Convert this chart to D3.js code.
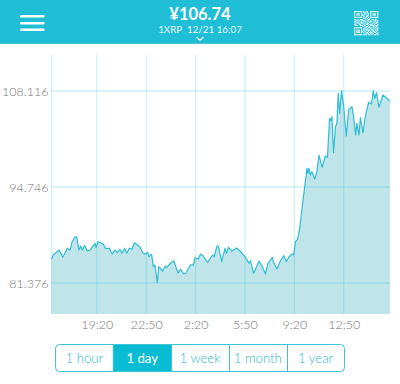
<!DOCTYPE html>
<html>
<head>
<meta charset="utf-8">
<script src="https://cdn.jsdelivr.net/npm/d3@7"></script>
<style>
html,body{margin:0;padding:0;background:#fff;}
svg{display:block;}
text{font-family:Lato,"Open Sans",sans-serif;}
.axis path,.axis line{display:none;}
.axis text{fill:#767676;font-size:12.5px;font-weight:300;font-family:Lato,"Open Sans",sans-serif;}
</style>
</head>
<body>
<svg id="chart" width="400" height="384"></svg>
<script>
// minutes since 16:07 the day before
const minutes = [0,8,33,48,67,79,88,99,107,117,124,131,141,152,164,185,189,198,220,229,246,258,270,280,291,300,311,320,331,342,353,376,388,399,409,414,426,433,440,450,456,473,484,489,503,520,539,549,563,572,591,603,611,624,634,645,664,685,692,704,710,724,738,744,753,767,787,801,826,840,846,860,883,900,910,921,940,944,959,974,988,999,1010,1025,1030,1038,1047,1056,1070,1087,1091,1095,1101,1108,1120,1129,1138,1151,1165,1174,1183,1188,1193,1200,1208,1214,1220,1226,1234,1243,1254,1264,1278,1285,1294,1299,1308,1314,1325,1336,1349,1361,1369,1375,1383,1393,1410,1435,1440]
const prices = [84.72,85.32,85.97,84.95,86.21,85.97,87.13,87.74,87.82,85.97,86.53,85.97,86.63,85.83,85.97,86.91,86.35,87.13,86.81,86.21,86.21,85.41,85.97,85.60,86.07,85.51,86.21,85.51,86.21,86.07,86.99,86.43,85.60,85.37,85.65,85.04,85.37,83.65,83.88,81.42,83.65,83.05,83.74,83.51,84.02,84.48,82.73,83.28,82.63,82.73,83.92,83.88,84.90,84.72,85.41,85.14,84.26,85.28,85.04,86.53,86.53,84.34,86.21,85.51,86.35,85.83,86.25,85.87,84.90,84.12,84.48,82.73,84.44,83.42,82.63,84.12,84.95,84.34,83.33,84.48,85.18,84.34,85.04,85.41,85.28,87.13,87.46,89.00,92.94,97.35,96.65,97.39,96.42,96.88,95.86,96.88,99.20,97.49,99.06,98.88,104.31,103.98,104.54,99.52,103.14,103.62,107.80,105.01,108.16,105.93,101.85,105.47,105.93,104.54,101.99,103.62,101.99,104.40,102.31,104.77,106.54,106.31,108.16,107.10,107.88,105.85,107.56,106.86,106.74]

const yTicks = [81.376,94.746,108.116]
const xTicks = [193,403,613,823,1033,1243]
const xLabels = ['19:20','22:50','2:20','5:50','9:20','12:50']
const ranges = ['1 hour','1 day','1 week','1 month','1 year']
const activeRange = '1 day'
const qrRows = [
	'1111111010110011111110',
	'1000001011010010000010',
	'1011101001101010111010',
	'1011101110011010111010',
	'1000001010110010000010',
	'1111111010101011111110',
	'0000000011010100000000',
	'1101011100101101101100',
	'0110100111011010011010',
	'1011011010100111010110',
	'0101101101011000101100',
	'1100110010110111010010',
	'0110011101001011101110',
	'0000000010110100110100',
	'1111111001101110101010',
	'1000001011010011010110',
	'1011101010111101101010',
	'1011101101001010110100',
	'1011101010110111011010',
	'1000001001011010100110',
	'1111111011101101011010',
]

const main = '#20bed6'
const svg = d3.select('#chart')
const plot = {left:51.5,right:390,top:55,bottom:314}

// scales
const x = d3.scaleLinear().domain([0,1440]).range([plot.left,plot.right])
const y = d3.scaleLinear().domain([77.06,113.13]).range([plot.bottom,plot.top])
const rows = minutes.map((m,i)=>({m:m,p:prices[i]}))

// area + line
const area = d3.area().x(d=>x(d.m)).y0(plot.bottom).y1(d=>y(d.p))
const line = d3.line().x(d=>x(d.m)).y(d=>y(d.p))
svg.append('path').datum(rows).attr('d',area).attr('fill','#bfe5eb')

// grid goes over the area, that's why it looks darker down there
svg.append('g').selectAll('line').data(yTicks).join('line')
	.attr('x1',plot.left).attr('x2',plot.right)
	.attr('y1',d=>y(d)).attr('y2',d=>y(d))
	.attr('stroke','#2cc3d6').attr('stroke-opacity',.24).attr('stroke-width',1.3)
svg.append('g').selectAll('line').data([0].concat(xTicks)).join('line')
	.attr('x1',d=>x(d)).attr('x2',d=>x(d))
	.attr('y1',plot.top).attr('y2',plot.bottom)
	.attr('stroke','#2cc3d6').attr('stroke-opacity',.24).attr('stroke-width',1.3)

svg.append('path').datum(rows).attr('d',line)
	.attr('fill','none').attr('stroke','#2fbdd4').attr('stroke-width',1.2).attr('stroke-linejoin','round')

// axes
svg.append('g').attr('class','axis')
	.attr('transform',`translate(${plot.left-3},0)`)
	.call(d3.axisLeft(y).tickValues(yTicks).tickSize(0).tickPadding(0).tickFormat(d3.format('.3f')))
	.select('.domain').remove()
svg.append('g').attr('class','axis')
	.attr('transform',`translate(0,${plot.bottom+2})`)
	.call(d3.axisBottom(x).tickValues(xTicks).tickSize(0).tickPadding(4).tickFormat((d,i)=>xLabels[i]))
	.select('.domain').remove()

// header
const head = svg.append('g')
head.append('rect').attr('width',400).attr('height',44).attr('fill',main)
head.append('rect').attr('y',43).attr('width',400).attr('height',1).attr('fill','#45c4d8')
head.selectAll('.bar').data([16,23,29.5]).join('rect').attr('class','bar')
	.attr('x',20).attr('y',d=>d-1).attr('width',24.5).attr('height',2.4).attr('rx',1.2).attr('fill','#fff')
head.append('text').attr('x',200).attr('y',19.5).attr('text-anchor','middle')
	.attr('fill','#fff').attr('font-size',16.5).attr('font-weight',700).text('¥106.74')
head.append('text').attr('x',200).attr('y',32.5).attr('text-anchor','middle')
	.attr('fill','#fff').attr('fill-opacity',.9).attr('font-size',9.8).attr('xml:space','preserve').text('1XRP  12/21 16:07')
head.append('path').attr('d','M196.5 37.2 L200 40.2 L203.5 37.2')
	.attr('fill','none').attr('stroke','#fff').attr('stroke-width',1.2)

// qr code
const qrCell = 25.5/qrRows[0].length
const qrCells = []
qrRows.forEach((r,j)=>r.split('').forEach((c,i)=>{ if(c==='1') qrCells.push([i,j]) }))
head.append('g').attr('transform','translate(354,11)').selectAll('rect').data(qrCells).join('rect')
	.attr('x',d=>d[0]*qrCell).attr('y',d=>d[1]*qrCell)
	.attr('width',qrCell).attr('height',qrCell).attr('fill','#fff').attr('fill-opacity',.92)

// range buttons
const band = d3.scaleBand().domain(ranges).range([55.5,344.5])
const btnTop = 344.5, btnH = 27
const btn = svg.append('g')
btn.selectAll('.on').data(ranges.filter(d=>d===activeRange)).join('rect').attr('class','on')
	.attr('x',d=>band(d)-.5).attr('y',btnTop-.5).attr('width',band.bandwidth()+1).attr('height',btnH+1).attr('fill','#08bdd3')
btn.append('rect').attr('x',band.range()[0]).attr('y',btnTop).attr('width',289).attr('height',btnH).attr('rx',4)
	.attr('fill','none').attr('stroke','#3cc3d6')
btn.selectAll('.sep').data(ranges.slice(1)).join('line').attr('class','sep')
	.attr('x1',d=>Math.round(band(d))+.5).attr('x2',d=>Math.round(band(d))+.5)
	.attr('y1',btnTop).attr('y2',btnTop+btnH).attr('stroke','#3cc3d6')
btn.selectAll('text').data(ranges).join('text')
	.attr('x',d=>band(d)+band.bandwidth()/2).attr('y',btnTop+18.5).attr('text-anchor','middle')
	.attr('font-size',13.2).attr('font-weight',d=>d===activeRange?400:300)
	.attr('fill',d=>d===activeRange?'#fff':'#2fb9ce').text(d=>d)
</script>
</body>
</html>
